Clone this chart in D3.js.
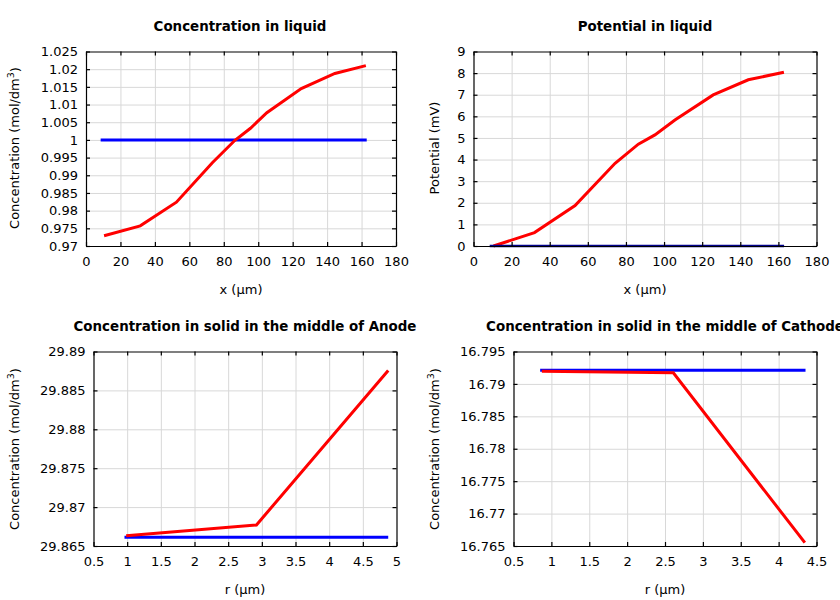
<!DOCTYPE html>
<html><head><meta charset="utf-8">
<script src="https://cdn.jsdelivr.net/npm/d3@7"></script>
<style>body{margin:0;background:#fff}svg{display:block}text{font-family:"DejaVu Sans",sans-serif}</style>
</head><body>
<svg id="c" width="840" height="600"></svg>
<script>
// ---- data ----
const titles = ["Concentration in liquid","Potential in liquid","Concentration in solid in the middle of Anode","Concentration in solid in the middle of Cathode"];
const xLabels = ["x (\u00b5m)","x (\u00b5m)","r (\u00b5m)","r (\u00b5m)"];
const yLabels = ["Concentration (mol/dm", "Potential (mV)", "Concentration (mol/dm", "Concentration (mol/dm"];
const ySup = ["3","","3","3"];

const xTicks1 = [0,20,40,60,80,100,120,140,160,180];
const yTicks1 = [0.97,0.975,0.98,0.985,0.99,0.995,1,1.005,1.01,1.015,1.02,1.025];
const yTicks2 = [0,1,2,3,4,5,6,7,8,9];
const xTicks3 = [0.5,1,1.5,2,2.5,3,3.5,4,4.5,5];
const yTicks3 = [29.865,29.87,29.875,29.88,29.885,29.89];
const xTicks4 = [0.5,1,1.5,2,2.5,3,3.5,4,4.5];
const yTicks4 = [16.765,16.77,16.775,16.78,16.785,16.79,16.795];

const liqX   = [10.5,31.5,52.5,73.5,86.5,95.5,105,125,144.5,162.5];
const liqC   = [0.9729,0.9757,0.9824,0.9936,0.9999,1.0033,1.0077,1.0145,1.0188,1.0210];
const liqC0X = [8.5,163];
const liqC0  = [1,1];

const potX   = [10.5,32,53.3,74.3,86.5,95.2,105.7,125.8,144.2,162.9];
const potV   = [0,0.62,1.87,3.83,4.71,5.14,5.83,6.99,7.69,8.04];
const pot0X  = [8.5,163];
const pot0   = [0,0];

const anR    = [0.985,2.92,4.877];
const anC    = [29.86633,29.8677,29.88756];
const an0R   = [0.96,4.877];
const an0C   = [29.86612,29.86612];

const caR    = [0.874,2.61,4.346];
const caC    = [16.79194,16.79172,16.76551];
const ca0R   = [0.852,4.355];
const ca0C   = [16.79212,16.79212];

// ---- layout ----
const panels = [
  {box:[86,396,51.5,246], xt:xTicks1, yt:yTicks1, title:[240,31], xl:[241,294], yl:[14,148],
   series:[{x:liqC0X,y:liqC0,c:"#0000ff",w:3},{x:liqX,y:liqC,c:"#ff0000",w:3}]},
  {box:[473.5,816.5,51.5,246], xt:xTicks1, yt:yTicks2, title:[645,31], xl:[645,294], yl:[434,148],
   series:[{x:potX,y:potV,c:"#ff0000",w:3},{x:pot0X,y:pot0,c:"#00008b",w:2.5}]},
  {box:[93.5,396.5,351.5,546], xt:xTicks3, yt:yTicks3, title:[245,331], xl:[245,594], yl:[14,449],
   series:[{x:an0R,y:an0C,c:"#0000ff",w:3},{x:anR,y:anC,c:"#ff0000",w:3}]},
  {box:[513.5,816.5,351.5,546], xt:xTicks4, yt:yTicks4, title:[665,331], xl:[665,594], yl:[434,449],
   series:[{x:ca0R,y:ca0C,c:"#0000ff",w:3},{x:caR,y:caC,c:"#ff0000",w:3}]}
];

const svg = d3.select("#c");
const fmt = v => String(+v.toFixed(6));
const FS = "13px";

panels.forEach((p,i)=>{
  const [l,r,t,b] = p.box;
  const xs = d3.scaleLinear().domain(d3.extent(p.xt)).range([l,r]);
  const ys = d3.scaleLinear().domain(d3.extent(p.yt)).range([b,t]);
  const g = svg.append("g");
  // grid
  g.append("g").attr("transform",`translate(0,${b})`)
    .call(d3.axisBottom(xs).tickValues(p.xt.slice(1,-1)).tickSize(-(b-t)).tickFormat(""))
    .call(a=>{a.select(".domain").remove();a.selectAll("line").attr("stroke","#d8d8d8").attr("stroke-width",1);});
  g.append("g").attr("transform",`translate(${l},0)`)
    .call(d3.axisLeft(ys).tickValues(p.yt.slice(1,-1)).tickSize(-(r-l)).tickFormat(""))
    .call(a=>{a.select(".domain").remove();a.selectAll("line").attr("stroke","#d8d8d8").attr("stroke-width",1);});
  // data lines
  const clipId = "clip"+i;
  svg.append("clipPath").attr("id",clipId).append("rect").attr("x",l-2).attr("y",t-2).attr("width",r-l+4).attr("height",b-t+4);
  const line = d3.line().x(d=>xs(d[0])).y(d=>ys(d[1]));
  p.series.forEach(s=>{
    g.append("path").attr("clip-path",`url(#${clipId})`)
      .datum(s.x.map((v,k)=>[v,s.y[k]]))
      .attr("d",line).attr("fill","none").attr("stroke",s.c).attr("stroke-width",s.w).attr("stroke-linejoin","miter");
  });
  // axes with inward ticks
  const style = a=>{a.select(".domain").attr("stroke","#000").attr("stroke-width",1.2);
    a.selectAll(".tick line").attr("stroke","#000").attr("stroke-width",1.2);
    a.selectAll("text").attr("font-size",FS).attr("fill","#000").attr("font-family","DejaVu Sans, sans-serif");};
  g.append("g").attr("transform",`translate(0,${b})`)
    .call(d3.axisBottom(xs).tickValues(p.xt).tickSizeInner(-4).tickSizeOuter(0).tickPadding(11).tickFormat(fmt)).call(style);
  g.append("g").attr("transform",`translate(0,${t})`)
    .call(d3.axisTop(xs).tickValues(p.xt).tickSizeInner(-4).tickSizeOuter(0).tickFormat("")).call(style);
  g.append("g").attr("transform",`translate(${l},0)`)
    .call(d3.axisLeft(ys).tickValues(p.yt).tickSizeInner(-4).tickSizeOuter(0).tickPadding(8).tickFormat(fmt)).call(style);
  g.append("g").attr("transform",`translate(${r},0)`)
    .call(d3.axisRight(ys).tickValues(p.yt).tickSizeInner(-4).tickSizeOuter(0).tickFormat("")).call(style);
  // title
  g.append("text").attr("x",p.title[0]).attr("y",p.title[1]).attr("text-anchor","middle")
    .attr("font-size","13.4px").attr("font-weight","bold").text(titles[i]);
  // x label
  g.append("text").attr("x",p.xl[0]).attr("y",p.xl[1]).attr("text-anchor","middle")
    .attr("font-size",FS).text(xLabels[i]);
  // y label
  const yt = g.append("text").attr("transform",`translate(${p.yl[0]+4.5},${p.yl[1]}) rotate(-90)`)
    .attr("text-anchor","middle").attr("font-size",FS);
  yt.append("tspan").text(yLabels[i]);
  if (ySup[i]) {
    yt.append("tspan").attr("dy","-0.45em").attr("font-size","9.5px").text(ySup[i]);
    yt.append("tspan").attr("dy","0.45em").text(")");
  }
});
</script>
</body></html>
